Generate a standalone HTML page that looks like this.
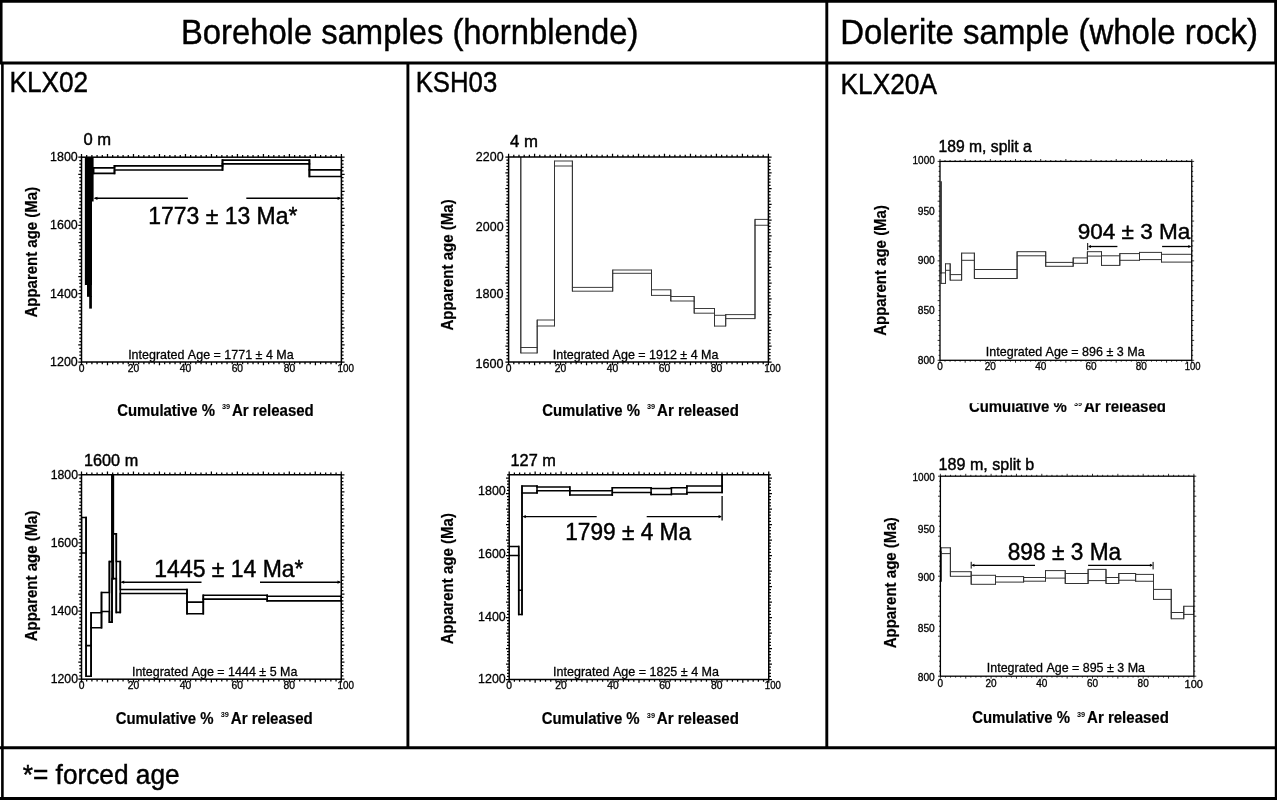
<!DOCTYPE html>
<html><head><meta charset="utf-8"><title>Ar-Ar age spectra</title>
<style>
html,body{margin:0;padding:0;background:#fff;}
body{width:1277px;height:800px;overflow:hidden;}
svg{display:block;}
.my{stroke:#000;stroke-width:0.45px;}
.hv{stroke:#000;stroke-width:0.3px;}
.hb{stroke:#000;stroke-width:0.2px;}
text{font-family:"Liberation Sans",Arial,Helvetica,sans-serif;fill:#000;font-kerning:none;font-variant-ligatures:none;}
</style></head><body>
<svg width="1277" height="800" viewBox="0 0 1277 800">
<rect width="1277" height="800" fill="#fff"/>
<g stroke="#000" fill="none">
<line x1="0" y1="1.3" x2="1277" y2="1.3" stroke-width="2.7"/>
<line x1="1.25" y1="0" x2="1.25" y2="63" stroke-width="2.6"/>
<line x1="2.4" y1="62" x2="2.4" y2="800" stroke-width="2.6"/>
<line x1="1275.6" y1="0" x2="1275.6" y2="63" stroke-width="2.8"/>
<line x1="1276" y1="62" x2="1276" y2="800" stroke-width="2.4"/>
<line x1="0" y1="63" x2="1277" y2="63" stroke-width="2.9"/>
<line x1="0" y1="747.7" x2="1277" y2="747.7" stroke-width="2.9"/>
<line x1="0" y1="798.5" x2="1277" y2="798.5" stroke-width="3"/>
<line x1="407.9" y1="63" x2="407.9" y2="747.7" stroke-width="2.9"/>
<line x1="826.8" y1="0" x2="826.8" y2="747.7" stroke-width="2.9"/>
</g>
<text x="180.91" y="43.90" font-size="34.60" textLength="457.42" lengthAdjust="spacingAndGlyphs" class="my">Borehole samples (hornblende)</text>
<text x="840.30" y="44.20" font-size="34.60" textLength="417.75" lengthAdjust="spacingAndGlyphs" class="my">Dolerite sample (whole rock)</text>
<text x="9.45" y="91.70" font-size="30.00" textLength="78.77" lengthAdjust="spacingAndGlyphs" class="my">KLX02</text>
<text x="415.69" y="91.70" font-size="30.00" textLength="81.54" lengthAdjust="spacingAndGlyphs" class="my">KSH03</text>
<text x="840.54" y="93.80" font-size="29.40" textLength="96.51" lengthAdjust="spacingAndGlyphs" class="my">KLX20A</text>
<text x="22.78" y="784.20" font-size="27.00" textLength="156.89" lengthAdjust="spacingAndGlyphs" class="my">*= forced age</text>
<clipPath id="clipx5"><rect x="900" y="403.2" width="300" height="20"/></clipPath>
<clipPath id="clip1"><rect x="81.50" y="157.20" width="259.90" height="204.80"/></clipPath>
<path d="M81.50 157.20v-3.20M81.50 362.00v3.20M86.70 157.20v-2.20M86.70 362.00v2.20M91.90 157.20v-2.20M91.90 362.00v2.20M97.09 157.20v-2.20M97.09 362.00v2.20M102.29 157.20v-2.20M102.29 362.00v2.20M107.49 157.20v-3.20M107.49 362.00v3.20M112.69 157.20v-2.20M112.69 362.00v2.20M117.89 157.20v-2.20M117.89 362.00v2.20M123.08 157.20v-2.20M123.08 362.00v2.20M128.28 157.20v-2.20M128.28 362.00v2.20M133.48 157.20v-3.20M133.48 362.00v3.20M138.68 157.20v-2.20M138.68 362.00v2.20M143.88 157.20v-2.20M143.88 362.00v2.20M149.07 157.20v-2.20M149.07 362.00v2.20M154.27 157.20v-2.20M154.27 362.00v2.20M159.47 157.20v-3.20M159.47 362.00v3.20M164.67 157.20v-2.20M164.67 362.00v2.20M169.87 157.20v-2.20M169.87 362.00v2.20M175.06 157.20v-2.20M175.06 362.00v2.20M180.26 157.20v-2.20M180.26 362.00v2.20M185.46 157.20v-3.20M185.46 362.00v3.20M190.66 157.20v-2.20M190.66 362.00v2.20M195.86 157.20v-2.20M195.86 362.00v2.20M201.05 157.20v-2.20M201.05 362.00v2.20M206.25 157.20v-2.20M206.25 362.00v2.20M211.45 157.20v-3.20M211.45 362.00v3.20M216.65 157.20v-2.20M216.65 362.00v2.20M221.85 157.20v-2.20M221.85 362.00v2.20M227.04 157.20v-2.20M227.04 362.00v2.20M232.24 157.20v-2.20M232.24 362.00v2.20M237.44 157.20v-3.20M237.44 362.00v3.20M242.64 157.20v-2.20M242.64 362.00v2.20M247.84 157.20v-2.20M247.84 362.00v2.20M253.03 157.20v-2.20M253.03 362.00v2.20M258.23 157.20v-2.20M258.23 362.00v2.20M263.43 157.20v-3.20M263.43 362.00v3.20M268.63 157.20v-2.20M268.63 362.00v2.20M273.83 157.20v-2.20M273.83 362.00v2.20M279.02 157.20v-2.20M279.02 362.00v2.20M284.22 157.20v-2.20M284.22 362.00v2.20M289.42 157.20v-3.20M289.42 362.00v3.20M294.62 157.20v-2.20M294.62 362.00v2.20M299.82 157.20v-2.20M299.82 362.00v2.20M305.01 157.20v-2.20M305.01 362.00v2.20M310.21 157.20v-2.20M310.21 362.00v2.20M315.41 157.20v-3.20M315.41 362.00v3.20M320.61 157.20v-2.20M320.61 362.00v2.20M325.81 157.20v-2.20M325.81 362.00v2.20M331.00 157.20v-2.20M331.00 362.00v2.20M336.20 157.20v-2.20M336.20 362.00v2.20M341.40 157.20v-3.20M341.40 362.00v3.20M81.50 362.00h-3.20M341.40 362.00h3.20M81.50 358.59h-2.20M341.40 358.59h2.20M81.50 355.17h-2.20M341.40 355.17h2.20M81.50 351.76h-2.20M341.40 351.76h2.20M81.50 348.35h-2.20M341.40 348.35h2.20M81.50 344.93h-3.20M341.40 344.93h3.20M81.50 341.52h-2.20M341.40 341.52h2.20M81.50 338.11h-2.20M341.40 338.11h2.20M81.50 334.69h-2.20M341.40 334.69h2.20M81.50 331.28h-2.20M341.40 331.28h2.20M81.50 327.87h-3.20M341.40 327.87h3.20M81.50 324.45h-2.20M341.40 324.45h2.20M81.50 321.04h-2.20M341.40 321.04h2.20M81.50 317.63h-2.20M341.40 317.63h2.20M81.50 314.21h-2.20M341.40 314.21h2.20M81.50 310.80h-3.20M341.40 310.80h3.20M81.50 307.39h-2.20M341.40 307.39h2.20M81.50 303.97h-2.20M341.40 303.97h2.20M81.50 300.56h-2.20M341.40 300.56h2.20M81.50 297.15h-2.20M341.40 297.15h2.20M81.50 293.73h-3.20M341.40 293.73h3.20M81.50 290.32h-2.20M341.40 290.32h2.20M81.50 286.91h-2.20M341.40 286.91h2.20M81.50 283.49h-2.20M341.40 283.49h2.20M81.50 280.08h-2.20M341.40 280.08h2.20M81.50 276.67h-3.20M341.40 276.67h3.20M81.50 273.25h-2.20M341.40 273.25h2.20M81.50 269.84h-2.20M341.40 269.84h2.20M81.50 266.43h-2.20M341.40 266.43h2.20M81.50 263.01h-2.20M341.40 263.01h2.20M81.50 259.60h-3.20M341.40 259.60h3.20M81.50 256.19h-2.20M341.40 256.19h2.20M81.50 252.77h-2.20M341.40 252.77h2.20M81.50 249.36h-2.20M341.40 249.36h2.20M81.50 245.95h-2.20M341.40 245.95h2.20M81.50 242.53h-3.20M341.40 242.53h3.20M81.50 239.12h-2.20M341.40 239.12h2.20M81.50 235.71h-2.20M341.40 235.71h2.20M81.50 232.29h-2.20M341.40 232.29h2.20M81.50 228.88h-2.20M341.40 228.88h2.20M81.50 225.47h-3.20M341.40 225.47h3.20M81.50 222.05h-2.20M341.40 222.05h2.20M81.50 218.64h-2.20M341.40 218.64h2.20M81.50 215.23h-2.20M341.40 215.23h2.20M81.50 211.81h-2.20M341.40 211.81h2.20M81.50 208.40h-3.20M341.40 208.40h3.20M81.50 204.99h-2.20M341.40 204.99h2.20M81.50 201.57h-2.20M341.40 201.57h2.20M81.50 198.16h-2.20M341.40 198.16h2.20M81.50 194.75h-2.20M341.40 194.75h2.20M81.50 191.33h-3.20M341.40 191.33h3.20M81.50 187.92h-2.20M341.40 187.92h2.20M81.50 184.51h-2.20M341.40 184.51h2.20M81.50 181.09h-2.20M341.40 181.09h2.20M81.50 177.68h-2.20M341.40 177.68h2.20M81.50 174.27h-3.20M341.40 174.27h3.20M81.50 170.85h-2.20M341.40 170.85h2.20M81.50 167.44h-2.20M341.40 167.44h2.20M81.50 164.03h-2.20M341.40 164.03h2.20M81.50 160.61h-2.20M341.40 160.61h2.20M81.50 157.20h-3.20M341.40 157.20h3.20" stroke="#000" stroke-width="1.25" fill="none"/>
<g clip-path="url(#clip1)" fill="none" stroke="#000" stroke-width="1.70" stroke-linejoin="miter" stroke-linecap="square">
<path d="M93.60 167.90 L114.50 167.90 L114.50 165.90 L222.50 165.90 L222.50 160.20 L309.40 160.20 L309.40 169.80 L341.40 169.80"/>
<path d="M93.60 173.40 L114.50 173.40 L114.50 170.00 L222.50 170.00 L222.50 163.80 L309.40 163.80 L309.40 176.50 L341.40 176.50"/>
<path d="M93.60 167.90V173.40 M114.50 167.90V173.40 M114.50 165.90V170.00 M222.50 165.90V170.00 M222.50 160.20V163.80 M309.40 160.20V163.80 M309.40 169.80V176.50 M341.40 169.80V176.50"/>
<rect x="85.0" y="157" width="8.6" height="44.5" fill="#000" stroke="none"/>
<rect x="85.0" y="201" width="7.0" height="84" fill="#000" stroke="none"/>
<rect x="87.0" y="284" width="4.9" height="12.8" fill="#000" stroke="none"/>
<rect x="89.2" y="296" width="2.7" height="12.6" fill="#000" stroke="none"/>
<line x1="84.4" y1="157" x2="84.4" y2="285" stroke="#bbb" stroke-width="0.6"/>
</g>
<rect x="81.50" y="157.20" width="259.90" height="204.80" fill="none" stroke="#000" stroke-width="1.50"/>
<g stroke="#000" stroke-width="1.40" fill="#000">
<line x1="94.80" y1="198.30" x2="187.90" y2="198.30"/>
<line x1="246.30" y1="198.30" x2="340.20" y2="198.30"/>
</g>
<path d="M93.80 198.30l3.60 -1.60v3.20z M341.20 198.30l-3.60 -1.60v3.20z" fill="#000"/>
<text x="83.55" y="144.60" font-size="16.60" textLength="27.64" lengthAdjust="spacingAndGlyphs" class="my">0 m</text>
<text x="148.25" y="223.60" font-size="23.70" textLength="149.21" lengthAdjust="spacingAndGlyphs" class="my">1773 ± 13 Ma*</text>
<text x="128.15" y="359.10" font-size="13.60" textLength="165.55" lengthAdjust="spacingAndGlyphs" class="hv">Integrated Age = 1771 ± 4 Ma</text>
<text class="hb" transform="translate(37.20 317.20) rotate(-90)" x="-0.37" y="0" font-size="16.20" font-weight="bold" textLength="130.72" lengthAdjust="spacingAndGlyphs">Apparent age (Ma)</text>
<text x="117.29" y="415.80" font-size="16.00" font-weight="bold" textLength="97.60" lengthAdjust="spacingAndGlyphs" class="hb">Cumulative %</text><text x="222.03" y="409.20" font-size="7.20" font-weight="bold" textLength="8.14" lengthAdjust="spacingAndGlyphs">39</text><text x="232.03" y="415.80" font-size="16.00" font-weight="bold" textLength="81.76" lengthAdjust="spacingAndGlyphs" class="hb">Ar released</text>
<text x="78.64" y="371.95" font-size="10.30" textLength="5.73" lengthAdjust="spacingAndGlyphs" class="hv">0</text>
<text x="127.69" y="371.95" font-size="10.30" textLength="11.46" lengthAdjust="spacingAndGlyphs" class="hv">20</text>
<text x="179.81" y="371.95" font-size="10.30" textLength="11.46" lengthAdjust="spacingAndGlyphs" class="hv">40</text>
<text x="231.65" y="371.95" font-size="10.30" textLength="11.46" lengthAdjust="spacingAndGlyphs" class="hv">60</text>
<text x="283.67" y="371.95" font-size="10.30" textLength="11.46" lengthAdjust="spacingAndGlyphs" class="hv">80</text>
<text x="337.55" y="371.60" font-size="10.30" textLength="16.44" lengthAdjust="spacingAndGlyphs" class="hv">100</text>
<text x="50.05" y="160.92" font-size="13.20" textLength="27.74" lengthAdjust="spacingAndGlyphs" class="hv">1800</text>
<text x="50.05" y="229.42" font-size="13.20" textLength="27.74" lengthAdjust="spacingAndGlyphs" class="hv">1600</text>
<text x="50.05" y="297.62" font-size="13.20" textLength="27.74" lengthAdjust="spacingAndGlyphs" class="hv">1400</text>
<text x="50.05" y="365.92" font-size="13.20" textLength="27.74" lengthAdjust="spacingAndGlyphs" class="hv">1200</text>
<clipPath id="clip2"><rect x="81.50" y="474.75" width="259.75" height="204.45"/></clipPath>
<path d="M81.50 474.75v-3.20M81.50 679.20v3.20M86.69 474.75v-2.20M86.69 679.20v2.20M91.89 474.75v-2.20M91.89 679.20v2.20M97.09 474.75v-2.20M97.09 679.20v2.20M102.28 474.75v-2.20M102.28 679.20v2.20M107.47 474.75v-3.20M107.47 679.20v3.20M112.67 474.75v-2.20M112.67 679.20v2.20M117.87 474.75v-2.20M117.87 679.20v2.20M123.06 474.75v-2.20M123.06 679.20v2.20M128.25 474.75v-2.20M128.25 679.20v2.20M133.45 474.75v-3.20M133.45 679.20v3.20M138.65 474.75v-2.20M138.65 679.20v2.20M143.84 474.75v-2.20M143.84 679.20v2.20M149.03 474.75v-2.20M149.03 679.20v2.20M154.23 474.75v-2.20M154.23 679.20v2.20M159.43 474.75v-3.20M159.43 679.20v3.20M164.62 474.75v-2.20M164.62 679.20v2.20M169.81 474.75v-2.20M169.81 679.20v2.20M175.01 474.75v-2.20M175.01 679.20v2.20M180.20 474.75v-2.20M180.20 679.20v2.20M185.40 474.75v-3.20M185.40 679.20v3.20M190.59 474.75v-2.20M190.59 679.20v2.20M195.79 474.75v-2.20M195.79 679.20v2.20M200.99 474.75v-2.20M200.99 679.20v2.20M206.18 474.75v-2.20M206.18 679.20v2.20M211.38 474.75v-3.20M211.38 679.20v3.20M216.57 474.75v-2.20M216.57 679.20v2.20M221.76 474.75v-2.20M221.76 679.20v2.20M226.96 474.75v-2.20M226.96 679.20v2.20M232.16 474.75v-2.20M232.16 679.20v2.20M237.35 474.75v-3.20M237.35 679.20v3.20M242.54 474.75v-2.20M242.54 679.20v2.20M247.74 474.75v-2.20M247.74 679.20v2.20M252.94 474.75v-2.20M252.94 679.20v2.20M258.13 474.75v-2.20M258.13 679.20v2.20M263.32 474.75v-3.20M263.32 679.20v3.20M268.52 474.75v-2.20M268.52 679.20v2.20M273.72 474.75v-2.20M273.72 679.20v2.20M278.91 474.75v-2.20M278.91 679.20v2.20M284.11 474.75v-2.20M284.11 679.20v2.20M289.30 474.75v-3.20M289.30 679.20v3.20M294.50 474.75v-2.20M294.50 679.20v2.20M299.69 474.75v-2.20M299.69 679.20v2.20M304.88 474.75v-2.20M304.88 679.20v2.20M310.08 474.75v-2.20M310.08 679.20v2.20M315.27 474.75v-3.20M315.27 679.20v3.20M320.47 474.75v-2.20M320.47 679.20v2.20M325.66 474.75v-2.20M325.66 679.20v2.20M330.86 474.75v-2.20M330.86 679.20v2.20M336.06 474.75v-2.20M336.06 679.20v2.20M341.25 474.75v-3.20M341.25 679.20v3.20M81.50 679.20h-3.20M341.25 679.20h3.20M81.50 675.79h-2.20M341.25 675.79h2.20M81.50 672.38h-2.20M341.25 672.38h2.20M81.50 668.98h-2.20M341.25 668.98h2.20M81.50 665.57h-2.20M341.25 665.57h2.20M81.50 662.16h-3.20M341.25 662.16h3.20M81.50 658.75h-2.20M341.25 658.75h2.20M81.50 655.35h-2.20M341.25 655.35h2.20M81.50 651.94h-2.20M341.25 651.94h2.20M81.50 648.53h-2.20M341.25 648.53h2.20M81.50 645.12h-3.20M341.25 645.12h3.20M81.50 641.72h-2.20M341.25 641.72h2.20M81.50 638.31h-2.20M341.25 638.31h2.20M81.50 634.90h-2.20M341.25 634.90h2.20M81.50 631.50h-2.20M341.25 631.50h2.20M81.50 628.09h-3.20M341.25 628.09h3.20M81.50 624.68h-2.20M341.25 624.68h2.20M81.50 621.27h-2.20M341.25 621.27h2.20M81.50 617.87h-2.20M341.25 617.87h2.20M81.50 614.46h-2.20M341.25 614.46h2.20M81.50 611.05h-3.20M341.25 611.05h3.20M81.50 607.64h-2.20M341.25 607.64h2.20M81.50 604.24h-2.20M341.25 604.24h2.20M81.50 600.83h-2.20M341.25 600.83h2.20M81.50 597.42h-2.20M341.25 597.42h2.20M81.50 594.01h-3.20M341.25 594.01h3.20M81.50 590.61h-2.20M341.25 590.61h2.20M81.50 587.20h-2.20M341.25 587.20h2.20M81.50 583.79h-2.20M341.25 583.79h2.20M81.50 580.38h-2.20M341.25 580.38h2.20M81.50 576.98h-3.20M341.25 576.98h3.20M81.50 573.57h-2.20M341.25 573.57h2.20M81.50 570.16h-2.20M341.25 570.16h2.20M81.50 566.75h-2.20M341.25 566.75h2.20M81.50 563.35h-2.20M341.25 563.35h2.20M81.50 559.94h-3.20M341.25 559.94h3.20M81.50 556.53h-2.20M341.25 556.53h2.20M81.50 553.12h-2.20M341.25 553.12h2.20M81.50 549.72h-2.20M341.25 549.72h2.20M81.50 546.31h-2.20M341.25 546.31h2.20M81.50 542.90h-3.20M341.25 542.90h3.20M81.50 539.49h-2.20M341.25 539.49h2.20M81.50 536.09h-2.20M341.25 536.09h2.20M81.50 532.68h-2.20M341.25 532.68h2.20M81.50 529.27h-2.20M341.25 529.27h2.20M81.50 525.86h-3.20M341.25 525.86h3.20M81.50 522.46h-2.20M341.25 522.46h2.20M81.50 519.05h-2.20M341.25 519.05h2.20M81.50 515.64h-2.20M341.25 515.64h2.20M81.50 512.23h-2.20M341.25 512.23h2.20M81.50 508.83h-3.20M341.25 508.83h3.20M81.50 505.42h-2.20M341.25 505.42h2.20M81.50 502.01h-2.20M341.25 502.01h2.20M81.50 498.60h-2.20M341.25 498.60h2.20M81.50 495.20h-2.20M341.25 495.20h2.20M81.50 491.79h-3.20M341.25 491.79h3.20M81.50 488.38h-2.20M341.25 488.38h2.20M81.50 484.97h-2.20M341.25 484.97h2.20M81.50 481.57h-2.20M341.25 481.57h2.20M81.50 478.16h-2.20M341.25 478.16h2.20M81.50 474.75h-3.20M341.25 474.75h3.20" stroke="#000" stroke-width="1.25" fill="none"/>
<g clip-path="url(#clip2)" fill="none" stroke="#000" stroke-width="1.60" stroke-linejoin="miter" stroke-linecap="square">
<path d="M81.50 517.50 L86.10 517.50 L86.10 645.60 L91.10 645.60 L91.10 612.80 L101.50 612.80 L101.50 592.50 L109.40 592.50 L109.40 561.60 L112.00 561.60 L112.00 460.00 L113.30 460.00 L113.30 533.90 L116.30 533.90 L116.30 561.50 L120.30 561.50 L120.30 589.50 L187.00 589.50 L187.00 602.10 L203.30 602.10 L203.30 595.30 L267.20 595.30 L267.20 596.20 L341.25 596.20"/>
<path d="M81.50 553.00 L86.10 553.00 L86.10 676.30 L91.10 676.30 L91.10 627.80 L101.50 627.80 L101.50 611.50 L109.40 611.50 L109.40 622.10 L112.00 622.10 L112.00 578.60 L113.30 578.60 L113.30 578.60 L116.30 578.60 L116.30 612.40 L120.30 612.40 L120.30 593.50 L187.00 593.50 L187.00 613.80 L203.30 613.80 L203.30 599.10 L267.20 599.10 L267.20 600.90 L341.25 600.90"/>
<path d="M81.50 517.50V553.00 M86.10 517.50V553.00 M86.10 645.60V676.30 M91.10 645.60V676.30 M91.10 612.80V627.80 M101.50 612.80V627.80 M101.50 592.50V611.50 M109.40 592.50V611.50 M109.40 561.60V622.10 M112.00 561.60V622.10 M112.00 460.00V578.60 M113.30 460.00V578.60 M113.30 533.90V578.60 M116.30 533.90V578.60 M116.30 561.50V612.40 M120.30 561.50V612.40 M120.30 589.50V593.50 M187.00 589.50V593.50 M187.00 602.10V613.80 M203.30 602.10V613.80 M203.30 595.30V599.10 M267.20 595.30V599.10 M267.20 596.20V600.90 M341.25 596.20V600.90"/>
</g>
<rect x="81.50" y="474.75" width="259.75" height="204.45" fill="none" stroke="#000" stroke-width="1.50"/>
<g stroke="#000" stroke-width="1.40" fill="#000">
<line x1="121.60" y1="582.20" x2="201.50" y2="582.20"/>
<line x1="260.00" y1="582.20" x2="340.10" y2="582.20"/>
</g>
<path d="M120.60 582.20l3.60 -1.60v3.20z M341.10 582.20l-3.60 -1.60v3.20z" fill="#000"/>
<text x="84.06" y="466.00" font-size="16.90" textLength="54.10" lengthAdjust="spacingAndGlyphs" class="my">1600 m</text>
<text x="154.35" y="576.60" font-size="23.20" textLength="149.21" lengthAdjust="spacingAndGlyphs" class="my">1445 ± 14 Ma*</text>
<text x="131.95" y="675.80" font-size="13.60" textLength="165.45" lengthAdjust="spacingAndGlyphs" class="hv">Integrated Age = 1444 ± 5 Ma</text>
<text class="hb" transform="translate(37.00 640.90) rotate(-90)" x="-0.37" y="0" font-size="16.20" font-weight="bold" textLength="130.72" lengthAdjust="spacingAndGlyphs">Apparent age (Ma)</text>
<text x="115.69" y="723.80" font-size="16.00" font-weight="bold" textLength="97.90" lengthAdjust="spacingAndGlyphs" class="hb">Cumulative %</text><text x="220.75" y="717.20" font-size="7.20" font-weight="bold" textLength="8.16" lengthAdjust="spacingAndGlyphs">39</text><text x="230.78" y="723.80" font-size="16.00" font-weight="bold" textLength="82.01" lengthAdjust="spacingAndGlyphs" class="hb">Ar released</text>
<text x="78.64" y="688.76" font-size="10.30" textLength="5.73" lengthAdjust="spacingAndGlyphs" class="hv">0</text>
<text x="127.66" y="688.76" font-size="10.30" textLength="11.46" lengthAdjust="spacingAndGlyphs" class="hv">20</text>
<text x="179.75" y="688.76" font-size="10.30" textLength="11.46" lengthAdjust="spacingAndGlyphs" class="hv">40</text>
<text x="231.56" y="688.76" font-size="10.30" textLength="11.46" lengthAdjust="spacingAndGlyphs" class="hv">60</text>
<text x="283.55" y="688.76" font-size="10.30" textLength="11.46" lengthAdjust="spacingAndGlyphs" class="hv">80</text>
<text x="337.55" y="688.60" font-size="10.30" textLength="16.44" lengthAdjust="spacingAndGlyphs" class="hv">100</text>
<text x="50.66" y="478.82" font-size="13.20" textLength="27.31" lengthAdjust="spacingAndGlyphs" class="hv">1800</text>
<text x="50.66" y="547.12" font-size="13.20" textLength="27.31" lengthAdjust="spacingAndGlyphs" class="hv">1600</text>
<text x="50.66" y="615.12" font-size="13.20" textLength="27.31" lengthAdjust="spacingAndGlyphs" class="hv">1400</text>
<text x="50.66" y="682.82" font-size="13.20" textLength="27.31" lengthAdjust="spacingAndGlyphs" class="hv">1200</text>
<clipPath id="clip3"><rect x="508.60" y="157.00" width="259.80" height="205.00"/></clipPath>
<path d="M508.60 157.00v-3.20M508.60 362.00v3.20M513.80 157.00v-2.20M513.80 362.00v2.20M518.99 157.00v-2.20M518.99 362.00v2.20M524.19 157.00v-2.20M524.19 362.00v2.20M529.38 157.00v-2.20M529.38 362.00v2.20M534.58 157.00v-3.20M534.58 362.00v3.20M539.78 157.00v-2.20M539.78 362.00v2.20M544.97 157.00v-2.20M544.97 362.00v2.20M550.17 157.00v-2.20M550.17 362.00v2.20M555.36 157.00v-2.20M555.36 362.00v2.20M560.56 157.00v-3.20M560.56 362.00v3.20M565.76 157.00v-2.20M565.76 362.00v2.20M570.95 157.00v-2.20M570.95 362.00v2.20M576.15 157.00v-2.20M576.15 362.00v2.20M581.34 157.00v-2.20M581.34 362.00v2.20M586.54 157.00v-3.20M586.54 362.00v3.20M591.74 157.00v-2.20M591.74 362.00v2.20M596.93 157.00v-2.20M596.93 362.00v2.20M602.13 157.00v-2.20M602.13 362.00v2.20M607.32 157.00v-2.20M607.32 362.00v2.20M612.52 157.00v-3.20M612.52 362.00v3.20M617.72 157.00v-2.20M617.72 362.00v2.20M622.91 157.00v-2.20M622.91 362.00v2.20M628.11 157.00v-2.20M628.11 362.00v2.20M633.30 157.00v-2.20M633.30 362.00v2.20M638.50 157.00v-3.20M638.50 362.00v3.20M643.70 157.00v-2.20M643.70 362.00v2.20M648.89 157.00v-2.20M648.89 362.00v2.20M654.09 157.00v-2.20M654.09 362.00v2.20M659.28 157.00v-2.20M659.28 362.00v2.20M664.48 157.00v-3.20M664.48 362.00v3.20M669.68 157.00v-2.20M669.68 362.00v2.20M674.87 157.00v-2.20M674.87 362.00v2.20M680.07 157.00v-2.20M680.07 362.00v2.20M685.26 157.00v-2.20M685.26 362.00v2.20M690.46 157.00v-3.20M690.46 362.00v3.20M695.66 157.00v-2.20M695.66 362.00v2.20M700.85 157.00v-2.20M700.85 362.00v2.20M706.05 157.00v-2.20M706.05 362.00v2.20M711.24 157.00v-2.20M711.24 362.00v2.20M716.44 157.00v-3.20M716.44 362.00v3.20M721.64 157.00v-2.20M721.64 362.00v2.20M726.83 157.00v-2.20M726.83 362.00v2.20M732.03 157.00v-2.20M732.03 362.00v2.20M737.22 157.00v-2.20M737.22 362.00v2.20M742.42 157.00v-3.20M742.42 362.00v3.20M747.62 157.00v-2.20M747.62 362.00v2.20M752.81 157.00v-2.20M752.81 362.00v2.20M758.01 157.00v-2.20M758.01 362.00v2.20M763.20 157.00v-2.20M763.20 362.00v2.20M768.40 157.00v-3.20M768.40 362.00v3.20M508.60 362.00h-3.20M768.40 362.00h3.20M508.60 358.85h-2.20M768.40 358.85h2.20M508.60 355.69h-2.20M768.40 355.69h2.20M508.60 352.54h-2.20M768.40 352.54h2.20M508.60 349.38h-2.20M768.40 349.38h2.20M508.60 346.23h-3.20M768.40 346.23h3.20M508.60 343.08h-2.20M768.40 343.08h2.20M508.60 339.92h-2.20M768.40 339.92h2.20M508.60 336.77h-2.20M768.40 336.77h2.20M508.60 333.62h-2.20M768.40 333.62h2.20M508.60 330.46h-3.20M768.40 330.46h3.20M508.60 327.31h-2.20M768.40 327.31h2.20M508.60 324.15h-2.20M768.40 324.15h2.20M508.60 321.00h-2.20M768.40 321.00h2.20M508.60 317.85h-2.20M768.40 317.85h2.20M508.60 314.69h-3.20M768.40 314.69h3.20M508.60 311.54h-2.20M768.40 311.54h2.20M508.60 308.38h-2.20M768.40 308.38h2.20M508.60 305.23h-2.20M768.40 305.23h2.20M508.60 302.08h-2.20M768.40 302.08h2.20M508.60 298.92h-3.20M768.40 298.92h3.20M508.60 295.77h-2.20M768.40 295.77h2.20M508.60 292.62h-2.20M768.40 292.62h2.20M508.60 289.46h-2.20M768.40 289.46h2.20M508.60 286.31h-2.20M768.40 286.31h2.20M508.60 283.15h-3.20M768.40 283.15h3.20M508.60 280.00h-2.20M768.40 280.00h2.20M508.60 276.85h-2.20M768.40 276.85h2.20M508.60 273.69h-2.20M768.40 273.69h2.20M508.60 270.54h-2.20M768.40 270.54h2.20M508.60 267.38h-3.20M768.40 267.38h3.20M508.60 264.23h-2.20M768.40 264.23h2.20M508.60 261.08h-2.20M768.40 261.08h2.20M508.60 257.92h-2.20M768.40 257.92h2.20M508.60 254.77h-2.20M768.40 254.77h2.20M508.60 251.62h-3.20M768.40 251.62h3.20M508.60 248.46h-2.20M768.40 248.46h2.20M508.60 245.31h-2.20M768.40 245.31h2.20M508.60 242.15h-2.20M768.40 242.15h2.20M508.60 239.00h-2.20M768.40 239.00h2.20M508.60 235.85h-3.20M768.40 235.85h3.20M508.60 232.69h-2.20M768.40 232.69h2.20M508.60 229.54h-2.20M768.40 229.54h2.20M508.60 226.38h-2.20M768.40 226.38h2.20M508.60 223.23h-2.20M768.40 223.23h2.20M508.60 220.08h-3.20M768.40 220.08h3.20M508.60 216.92h-2.20M768.40 216.92h2.20M508.60 213.77h-2.20M768.40 213.77h2.20M508.60 210.62h-2.20M768.40 210.62h2.20M508.60 207.46h-2.20M768.40 207.46h2.20M508.60 204.31h-3.20M768.40 204.31h3.20M508.60 201.15h-2.20M768.40 201.15h2.20M508.60 198.00h-2.20M768.40 198.00h2.20M508.60 194.85h-2.20M768.40 194.85h2.20M508.60 191.69h-2.20M768.40 191.69h2.20M508.60 188.54h-3.20M768.40 188.54h3.20M508.60 185.38h-2.20M768.40 185.38h2.20M508.60 182.23h-2.20M768.40 182.23h2.20M508.60 179.08h-2.20M768.40 179.08h2.20M508.60 175.92h-2.20M768.40 175.92h2.20M508.60 172.77h-3.20M768.40 172.77h3.20M508.60 169.62h-2.20M768.40 169.62h2.20M508.60 166.46h-2.20M768.40 166.46h2.20M508.60 163.31h-2.20M768.40 163.31h2.20M508.60 160.15h-2.20M768.40 160.15h2.20M508.60 157.00h-3.20M768.40 157.00h3.20" stroke="#000" stroke-width="1.25" fill="none"/>
<g clip-path="url(#clip3)" fill="none" stroke="#333" stroke-width="0.95" stroke-linejoin="miter" stroke-linecap="square">
<path d="M508.60 140.00 L520.80 140.00 L520.80 347.50 L537.20 347.50 L537.20 320.00 L554.50 320.00 L554.50 161.00 L572.40 161.00 L572.40 287.40 L612.70 287.40 L612.70 270.00 L651.50 270.00 L651.50 289.80 L670.80 289.80 L670.80 296.50 L694.20 296.50 L694.20 308.50 L714.50 308.50 L714.50 315.30 L725.70 315.30 L725.70 314.60 L755.00 314.60 L755.00 219.40 L768.40 219.40"/>
<path d="M508.60 140.00 L520.80 140.00 L520.80 353.00 L537.20 353.00 L537.20 326.00 L554.50 326.00 L554.50 166.00 L572.40 166.00 L572.40 291.20 L612.70 291.20 L612.70 273.30 L651.50 273.30 L651.50 295.40 L670.80 295.40 L670.80 301.00 L694.20 301.00 L694.20 313.20 L714.50 313.20 L714.50 326.10 L725.70 326.10 L725.70 318.60 L755.00 318.60 L755.00 225.25 L768.40 225.25"/>
<path d="M508.60 140.00V140.00 M520.80 140.00V140.00 M520.80 347.50V353.00 M537.20 347.50V353.00 M537.20 320.00V326.00 M554.50 320.00V326.00 M554.50 161.00V166.00 M572.40 161.00V166.00 M572.40 287.40V291.20 M612.70 287.40V291.20 M612.70 270.00V273.30 M651.50 270.00V273.30 M651.50 289.80V295.40 M670.80 289.80V295.40 M670.80 296.50V301.00 M694.20 296.50V301.00 M694.20 308.50V313.20 M714.50 308.50V313.20 M714.50 315.30V326.10 M725.70 315.30V326.10 M725.70 314.60V318.60 M755.00 314.60V318.60 M755.00 219.40V225.25 M768.40 219.40V225.25"/>
</g>
<rect x="508.60" y="157.00" width="259.80" height="205.00" fill="none" stroke="#000" stroke-width="1.50"/>
<text x="510.02" y="147.00" font-size="16.00" textLength="27.89" lengthAdjust="spacingAndGlyphs" class="my">4 m</text>
<text x="552.85" y="358.75" font-size="13.40" textLength="165.65" lengthAdjust="spacingAndGlyphs" class="hv">Integrated Age = 1912 ± 4 Ma</text>
<text class="hb" transform="translate(453.10 330.20) rotate(-90)" x="-0.37" y="0" font-size="16.20" font-weight="bold" textLength="131.32" lengthAdjust="spacingAndGlyphs">Apparent age (Ma)</text>
<text x="542.19" y="415.60" font-size="16.00" font-weight="bold" textLength="97.70" lengthAdjust="spacingAndGlyphs" class="hb">Cumulative %</text><text x="647.04" y="409.00" font-size="7.20" font-weight="bold" textLength="8.15" lengthAdjust="spacingAndGlyphs">39</text><text x="657.04" y="415.60" font-size="16.00" font-weight="bold" textLength="81.85" lengthAdjust="spacingAndGlyphs" class="hb">Ar released</text>
<text x="505.74" y="372.10" font-size="10.30" textLength="5.73" lengthAdjust="spacingAndGlyphs" class="hv">0</text>
<text x="554.77" y="372.10" font-size="10.30" textLength="11.46" lengthAdjust="spacingAndGlyphs" class="hv">20</text>
<text x="606.87" y="372.10" font-size="10.30" textLength="11.46" lengthAdjust="spacingAndGlyphs" class="hv">40</text>
<text x="658.69" y="372.10" font-size="10.30" textLength="11.46" lengthAdjust="spacingAndGlyphs" class="hv">60</text>
<text x="710.69" y="372.10" font-size="10.30" textLength="11.46" lengthAdjust="spacingAndGlyphs" class="hv">80</text>
<text x="764.35" y="371.90" font-size="10.30" textLength="16.44" lengthAdjust="spacingAndGlyphs" class="hv">100</text>
<text x="475.87" y="161.32" font-size="13.20" textLength="27.71" lengthAdjust="spacingAndGlyphs" class="hv">2200</text>
<text x="475.87" y="231.22" font-size="13.20" textLength="27.71" lengthAdjust="spacingAndGlyphs" class="hv">2000</text>
<text x="475.54" y="298.42" font-size="13.20" textLength="28.05" lengthAdjust="spacingAndGlyphs" class="hv">1800</text>
<text x="475.54" y="367.52" font-size="13.20" textLength="28.05" lengthAdjust="spacingAndGlyphs" class="hv">1600</text>
<clipPath id="clip4"><rect x="509.20" y="474.75" width="259.55" height="204.75"/></clipPath>
<path d="M509.20 474.75v-3.20M509.20 679.50v3.20M514.39 474.75v-2.20M514.39 679.50v2.20M519.58 474.75v-2.20M519.58 679.50v2.20M524.77 474.75v-2.20M524.77 679.50v2.20M529.96 474.75v-2.20M529.96 679.50v2.20M535.15 474.75v-3.20M535.15 679.50v3.20M540.35 474.75v-2.20M540.35 679.50v2.20M545.54 474.75v-2.20M545.54 679.50v2.20M550.73 474.75v-2.20M550.73 679.50v2.20M555.92 474.75v-2.20M555.92 679.50v2.20M561.11 474.75v-3.20M561.11 679.50v3.20M566.30 474.75v-2.20M566.30 679.50v2.20M571.49 474.75v-2.20M571.49 679.50v2.20M576.68 474.75v-2.20M576.68 679.50v2.20M581.87 474.75v-2.20M581.87 679.50v2.20M587.06 474.75v-3.20M587.06 679.50v3.20M592.26 474.75v-2.20M592.26 679.50v2.20M597.45 474.75v-2.20M597.45 679.50v2.20M602.64 474.75v-2.20M602.64 679.50v2.20M607.83 474.75v-2.20M607.83 679.50v2.20M613.02 474.75v-3.20M613.02 679.50v3.20M618.21 474.75v-2.20M618.21 679.50v2.20M623.40 474.75v-2.20M623.40 679.50v2.20M628.59 474.75v-2.20M628.59 679.50v2.20M633.78 474.75v-2.20M633.78 679.50v2.20M638.98 474.75v-3.20M638.98 679.50v3.20M644.17 474.75v-2.20M644.17 679.50v2.20M649.36 474.75v-2.20M649.36 679.50v2.20M654.55 474.75v-2.20M654.55 679.50v2.20M659.74 474.75v-2.20M659.74 679.50v2.20M664.93 474.75v-3.20M664.93 679.50v3.20M670.12 474.75v-2.20M670.12 679.50v2.20M675.31 474.75v-2.20M675.31 679.50v2.20M680.50 474.75v-2.20M680.50 679.50v2.20M685.69 474.75v-2.20M685.69 679.50v2.20M690.88 474.75v-3.20M690.88 679.50v3.20M696.08 474.75v-2.20M696.08 679.50v2.20M701.27 474.75v-2.20M701.27 679.50v2.20M706.46 474.75v-2.20M706.46 679.50v2.20M711.65 474.75v-2.20M711.65 679.50v2.20M716.84 474.75v-3.20M716.84 679.50v3.20M722.03 474.75v-2.20M722.03 679.50v2.20M727.22 474.75v-2.20M727.22 679.50v2.20M732.41 474.75v-2.20M732.41 679.50v2.20M737.60 474.75v-2.20M737.60 679.50v2.20M742.79 474.75v-3.20M742.79 679.50v3.20M747.99 474.75v-2.20M747.99 679.50v2.20M753.18 474.75v-2.20M753.18 679.50v2.20M758.37 474.75v-2.20M758.37 679.50v2.20M763.56 474.75v-2.20M763.56 679.50v2.20M768.75 474.75v-3.20M768.75 679.50v3.20M509.20 679.50h-3.20M768.75 679.50h3.20M509.20 676.40h-2.20M768.75 676.40h2.20M509.20 673.30h-2.20M768.75 673.30h2.20M509.20 670.20h-2.20M768.75 670.20h2.20M509.20 667.10h-2.20M768.75 667.10h2.20M509.20 664.00h-3.20M768.75 664.00h3.20M509.20 660.90h-2.20M768.75 660.90h2.20M509.20 657.80h-2.20M768.75 657.80h2.20M509.20 654.70h-2.20M768.75 654.70h2.20M509.20 651.60h-2.20M768.75 651.60h2.20M509.20 648.50h-3.20M768.75 648.50h3.20M509.20 645.40h-2.20M768.75 645.40h2.20M509.20 642.30h-2.20M768.75 642.30h2.20M509.20 639.20h-2.20M768.75 639.20h2.20M509.20 636.10h-2.20M768.75 636.10h2.20M509.20 633.00h-3.20M768.75 633.00h3.20M509.20 629.90h-2.20M768.75 629.90h2.20M509.20 626.80h-2.20M768.75 626.80h2.20M509.20 623.70h-2.20M768.75 623.70h2.20M509.20 620.60h-2.20M768.75 620.60h2.20M509.20 617.50h-3.20M768.75 617.50h3.20M509.20 614.40h-2.20M768.75 614.40h2.20M509.20 611.30h-2.20M768.75 611.30h2.20M509.20 608.20h-2.20M768.75 608.20h2.20M509.20 605.10h-2.20M768.75 605.10h2.20M509.20 602.00h-3.20M768.75 602.00h3.20M509.20 598.90h-2.20M768.75 598.90h2.20M509.20 595.80h-2.20M768.75 595.80h2.20M509.20 592.70h-2.20M768.75 592.70h2.20M509.20 589.60h-2.20M768.75 589.60h2.20M509.20 586.50h-3.20M768.75 586.50h3.20M509.20 583.40h-2.20M768.75 583.40h2.20M509.20 580.30h-2.20M768.75 580.30h2.20M509.20 577.20h-2.20M768.75 577.20h2.20M509.20 574.10h-2.20M768.75 574.10h2.20M509.20 571.00h-3.20M768.75 571.00h3.20M509.20 567.90h-2.20M768.75 567.90h2.20M509.20 564.80h-2.20M768.75 564.80h2.20M509.20 561.70h-2.20M768.75 561.70h2.20M509.20 558.60h-2.20M768.75 558.60h2.20M509.20 555.50h-3.20M768.75 555.50h3.20M509.20 552.40h-2.20M768.75 552.40h2.20M509.20 549.30h-2.20M768.75 549.30h2.20M509.20 546.20h-2.20M768.75 546.20h2.20M509.20 543.10h-2.20M768.75 543.10h2.20M509.20 540.00h-3.20M768.75 540.00h3.20M509.20 536.90h-2.20M768.75 536.90h2.20M509.20 533.80h-2.20M768.75 533.80h2.20M509.20 530.70h-2.20M768.75 530.70h2.20M509.20 527.60h-2.20M768.75 527.60h2.20M509.20 524.50h-3.20M768.75 524.50h3.20M509.20 521.40h-2.20M768.75 521.40h2.20M509.20 518.30h-2.20M768.75 518.30h2.20M509.20 515.20h-2.20M768.75 515.20h2.20M509.20 512.10h-2.20M768.75 512.10h2.20M509.20 509.00h-3.20M768.75 509.00h3.20M509.20 505.90h-2.20M768.75 505.90h2.20M509.20 502.80h-2.20M768.75 502.80h2.20M509.20 499.70h-2.20M768.75 499.70h2.20M509.20 496.60h-2.20M768.75 496.60h2.20M509.20 493.50h-3.20M768.75 493.50h3.20M509.20 490.40h-2.20M768.75 490.40h2.20M509.20 487.30h-2.20M768.75 487.30h2.20M509.20 484.20h-2.20M768.75 484.20h2.20M509.20 481.10h-2.20M768.75 481.10h2.20M509.20 478.00h-3.20M768.75 478.00h3.20M509.20 474.90h-2.20M768.75 474.90h2.20" stroke="#000" stroke-width="1.25" fill="none"/>
<g clip-path="url(#clip4)" fill="none" stroke="#000" stroke-width="1.50" stroke-linejoin="miter" stroke-linecap="square">
<path d="M509.20 546.50 L518.70 546.50 L518.70 590.30 L522.00 590.30 L522.00 486.00 L537.00 486.00 L537.00 486.90 L569.80 486.90 L569.80 490.70 L612.30 490.70 L612.30 487.70 L651.10 487.70 L651.10 488.60 L671.40 488.60 L671.40 487.70 L686.90 487.70 L686.90 486.00 L722.10 486.00 L722.10 460.00 L768.75 460.00"/>
<path d="M509.20 555.60 L518.70 555.60 L518.70 614.40 L522.00 614.40 L522.00 492.90 L537.00 492.90 L537.00 490.70 L569.80 490.70 L569.80 495.00 L612.30 495.00 L612.30 492.40 L651.10 492.40 L651.10 494.60 L671.40 494.60 L671.40 494.10 L686.90 494.10 L686.90 492.40 L722.10 492.40 L722.10 460.00 L768.75 460.00"/>
<path d="M509.20 546.50V555.60 M518.70 546.50V555.60 M518.70 590.30V614.40 M522.00 590.30V614.40 M522.00 486.00V492.90 M537.00 486.00V492.90 M537.00 486.90V490.70 M569.80 486.90V490.70 M569.80 490.70V495.00 M612.30 490.70V495.00 M612.30 487.70V492.40 M651.10 487.70V492.40 M651.10 488.60V494.60 M671.40 488.60V494.60 M671.40 487.70V494.10 M686.90 487.70V494.10 M686.90 486.00V492.40 M722.10 486.00V492.40 M722.10 460.00V460.00 M768.75 460.00V460.00"/>
</g>
<rect x="509.20" y="474.75" width="259.55" height="204.75" fill="none" stroke="#000" stroke-width="1.50"/>
<g stroke="#000" stroke-width="1.40" fill="#000">
<line x1="523.60" y1="516.60" x2="596.70" y2="516.60"/>
<line x1="646.70" y1="516.60" x2="720.80" y2="516.60"/>
</g>
<path d="M522.60 516.60l3.20 -1.70v3.40z M721.80 516.60l-3.20 -1.70v3.40z" fill="#000"/>
<line x1="722.10" y1="496.00" x2="722.10" y2="520.50" stroke="#000" stroke-width="1.30"/>
<text x="510.56" y="465.90" font-size="16.00" textLength="45.32" lengthAdjust="spacingAndGlyphs" class="my">127 m</text>
<text x="565.27" y="539.50" font-size="23.50" textLength="125.83" lengthAdjust="spacingAndGlyphs" class="my">1799 ± 4 Ma</text>
<text x="553.04" y="676.20" font-size="13.40" textLength="165.96" lengthAdjust="spacingAndGlyphs" class="hv">Integrated Age = 1825 ± 4 Ma</text>
<text class="hb" transform="translate(452.90 644.00) rotate(-90)" x="-0.37" y="0" font-size="16.20" font-weight="bold" textLength="131.32" lengthAdjust="spacingAndGlyphs">Apparent age (Ma)</text>
<text x="541.69" y="724.10" font-size="16.00" font-weight="bold" textLength="97.95" lengthAdjust="spacingAndGlyphs" class="hb">Cumulative %</text><text x="646.81" y="717.50" font-size="7.20" font-weight="bold" textLength="8.17" lengthAdjust="spacingAndGlyphs">39</text><text x="656.84" y="724.10" font-size="16.00" font-weight="bold" textLength="82.06" lengthAdjust="spacingAndGlyphs" class="hb">Ar released</text>
<text x="506.34" y="689.16" font-size="10.30" textLength="5.73" lengthAdjust="spacingAndGlyphs" class="hv">0</text>
<text x="555.32" y="689.16" font-size="10.30" textLength="11.46" lengthAdjust="spacingAndGlyphs" class="hv">20</text>
<text x="607.37" y="689.16" font-size="10.30" textLength="11.46" lengthAdjust="spacingAndGlyphs" class="hv">40</text>
<text x="659.14" y="689.16" font-size="10.30" textLength="11.46" lengthAdjust="spacingAndGlyphs" class="hv">60</text>
<text x="711.09" y="689.16" font-size="10.30" textLength="11.46" lengthAdjust="spacingAndGlyphs" class="hv">80</text>
<text x="764.86" y="688.80" font-size="10.30" textLength="16.11" lengthAdjust="spacingAndGlyphs" class="hv">100</text>
<text x="478.05" y="494.62" font-size="13.20" textLength="27.74" lengthAdjust="spacingAndGlyphs" class="hv">1800</text>
<text x="478.05" y="558.42" font-size="13.20" textLength="27.74" lengthAdjust="spacingAndGlyphs" class="hv">1600</text>
<text x="478.05" y="620.82" font-size="13.20" textLength="27.74" lengthAdjust="spacingAndGlyphs" class="hv">1400</text>
<text x="478.05" y="682.62" font-size="13.20" textLength="27.74" lengthAdjust="spacingAndGlyphs" class="hv">1200</text>
<clipPath id="clip5"><rect x="940.00" y="161.40" width="251.75" height="198.90"/></clipPath>
<path d="M940.00 161.40v-2.40M940.00 360.30v2.40M945.03 161.40v-1.40M945.03 360.30v1.40M950.07 161.40v-1.40M950.07 360.30v1.40M955.11 161.40v-1.40M955.11 360.30v1.40M960.14 161.40v-1.40M960.14 360.30v1.40M965.17 161.40v-2.40M965.17 360.30v2.40M970.21 161.40v-1.40M970.21 360.30v1.40M975.25 161.40v-1.40M975.25 360.30v1.40M980.28 161.40v-1.40M980.28 360.30v1.40M985.32 161.40v-1.40M985.32 360.30v1.40M990.35 161.40v-2.40M990.35 360.30v2.40M995.38 161.40v-1.40M995.38 360.30v1.40M1000.42 161.40v-1.40M1000.42 360.30v1.40M1005.46 161.40v-1.40M1005.46 360.30v1.40M1010.49 161.40v-1.40M1010.49 360.30v1.40M1015.52 161.40v-2.40M1015.52 360.30v2.40M1020.56 161.40v-1.40M1020.56 360.30v1.40M1025.60 161.40v-1.40M1025.60 360.30v1.40M1030.63 161.40v-1.40M1030.63 360.30v1.40M1035.66 161.40v-1.40M1035.66 360.30v1.40M1040.70 161.40v-2.40M1040.70 360.30v2.40M1045.73 161.40v-1.40M1045.73 360.30v1.40M1050.77 161.40v-1.40M1050.77 360.30v1.40M1055.81 161.40v-1.40M1055.81 360.30v1.40M1060.84 161.40v-1.40M1060.84 360.30v1.40M1065.88 161.40v-2.40M1065.88 360.30v2.40M1070.91 161.40v-1.40M1070.91 360.30v1.40M1075.94 161.40v-1.40M1075.94 360.30v1.40M1080.98 161.40v-1.40M1080.98 360.30v1.40M1086.01 161.40v-1.40M1086.01 360.30v1.40M1091.05 161.40v-2.40M1091.05 360.30v2.40M1096.09 161.40v-1.40M1096.09 360.30v1.40M1101.12 161.40v-1.40M1101.12 360.30v1.40M1106.15 161.40v-1.40M1106.15 360.30v1.40M1111.19 161.40v-1.40M1111.19 360.30v1.40M1116.22 161.40v-2.40M1116.22 360.30v2.40M1121.26 161.40v-1.40M1121.26 360.30v1.40M1126.30 161.40v-1.40M1126.30 360.30v1.40M1131.33 161.40v-1.40M1131.33 360.30v1.40M1136.37 161.40v-1.40M1136.37 360.30v1.40M1141.40 161.40v-2.40M1141.40 360.30v2.40M1146.43 161.40v-1.40M1146.43 360.30v1.40M1151.47 161.40v-1.40M1151.47 360.30v1.40M1156.51 161.40v-1.40M1156.51 360.30v1.40M1161.54 161.40v-1.40M1161.54 360.30v1.40M1166.58 161.40v-2.40M1166.58 360.30v2.40M1171.61 161.40v-1.40M1171.61 360.30v1.40M1176.64 161.40v-1.40M1176.64 360.30v1.40M1181.68 161.40v-1.40M1181.68 360.30v1.40M1186.71 161.40v-1.40M1186.71 360.30v1.40M1191.75 161.40v-2.40M1191.75 360.30v2.40M940.00 360.30h-2.40M1191.75 360.30h2.40M940.00 355.33h-1.40M1191.75 355.33h1.40M940.00 350.36h-1.40M1191.75 350.36h1.40M940.00 345.38h-1.40M1191.75 345.38h1.40M940.00 340.41h-2.40M1191.75 340.41h2.40M940.00 335.44h-1.40M1191.75 335.44h1.40M940.00 330.47h-1.40M1191.75 330.47h1.40M940.00 325.49h-1.40M1191.75 325.49h1.40M940.00 320.52h-2.40M1191.75 320.52h2.40M940.00 315.55h-1.40M1191.75 315.55h1.40M940.00 310.57h-1.40M1191.75 310.57h1.40M940.00 305.60h-1.40M1191.75 305.60h1.40M940.00 300.63h-2.40M1191.75 300.63h2.40M940.00 295.66h-1.40M1191.75 295.66h1.40M940.00 290.69h-1.40M1191.75 290.69h1.40M940.00 285.71h-1.40M1191.75 285.71h1.40M940.00 280.74h-2.40M1191.75 280.74h2.40M940.00 275.77h-1.40M1191.75 275.77h1.40M940.00 270.80h-1.40M1191.75 270.80h1.40M940.00 265.82h-1.40M1191.75 265.82h1.40M940.00 260.85h-2.40M1191.75 260.85h2.40M940.00 255.88h-1.40M1191.75 255.88h1.40M940.00 250.91h-1.40M1191.75 250.91h1.40M940.00 245.93h-1.40M1191.75 245.93h1.40M940.00 240.96h-2.40M1191.75 240.96h2.40M940.00 235.99h-1.40M1191.75 235.99h1.40M940.00 231.02h-1.40M1191.75 231.02h1.40M940.00 226.04h-1.40M1191.75 226.04h1.40M940.00 221.07h-2.40M1191.75 221.07h2.40M940.00 216.10h-1.40M1191.75 216.10h1.40M940.00 211.12h-1.40M1191.75 211.12h1.40M940.00 206.15h-1.40M1191.75 206.15h1.40M940.00 201.18h-2.40M1191.75 201.18h2.40M940.00 196.21h-1.40M1191.75 196.21h1.40M940.00 191.24h-1.40M1191.75 191.24h1.40M940.00 186.26h-1.40M1191.75 186.26h1.40M940.00 181.29h-2.40M1191.75 181.29h2.40M940.00 176.32h-1.40M1191.75 176.32h1.40M940.00 171.34h-1.40M1191.75 171.34h1.40M940.00 166.37h-1.40M1191.75 166.37h1.40M940.00 161.40h-2.40M1191.75 161.40h2.40" stroke="#000" stroke-width="0.80" fill="none"/>
<g clip-path="url(#clip5)" fill="none" stroke="#333" stroke-width="1.00" stroke-linejoin="miter" stroke-linecap="square">
<path d="M941.20 272.90 L945.50 272.90 L945.50 263.80 L950.20 263.80 L950.20 274.60 L961.60 274.60 L961.60 253.10 L974.40 253.10 L974.40 269.50 L1017.10 269.50 L1017.10 251.70 L1045.70 251.70 L1045.70 262.40 L1073.20 262.40 L1073.20 257.90 L1087.40 257.90 L1087.40 251.70 L1101.50 251.70 L1101.50 255.80 L1119.80 255.80 L1119.80 253.60 L1139.50 253.60 L1139.50 252.40 L1161.50 252.40 L1161.50 254.30 L1191.75 254.30"/>
<path d="M941.20 283.40 L945.50 283.40 L945.50 270.30 L950.20 270.30 L950.20 280.20 L961.60 280.20 L961.60 260.30 L974.40 260.30 L974.40 278.50 L1017.10 278.50 L1017.10 255.80 L1045.70 255.80 L1045.70 266.30 L1073.20 266.30 L1073.20 263.30 L1087.40 263.30 L1087.40 256.10 L1101.50 256.10 L1101.50 265.40 L1119.80 265.40 L1119.80 260.30 L1139.50 260.30 L1139.50 259.60 L1161.50 259.60 L1161.50 262.10 L1191.75 262.10"/>
<path d="M941.20 272.90V283.40 M945.50 272.90V283.40 M945.50 263.80V270.30 M950.20 263.80V270.30 M950.20 274.60V280.20 M961.60 274.60V280.20 M961.60 253.10V260.30 M974.40 253.10V260.30 M974.40 269.50V278.50 M1017.10 269.50V278.50 M1017.10 251.70V255.80 M1045.70 251.70V255.80 M1045.70 262.40V266.30 M1073.20 262.40V266.30 M1073.20 257.90V263.30 M1087.40 257.90V263.30 M1087.40 251.70V256.10 M1101.50 251.70V256.10 M1101.50 255.80V265.40 M1119.80 255.80V265.40 M1119.80 253.60V260.30 M1139.50 253.60V260.30 M1139.50 252.40V259.60 M1161.50 252.40V259.60 M1161.50 254.30V262.10 M1191.75 254.30V262.10"/>
<line x1="941.2" y1="182" x2="941.2" y2="273" stroke-width="1.4"/>
</g>
<rect x="940.00" y="161.40" width="251.75" height="198.90" fill="none" stroke="#000" stroke-width="1.30"/>
<g stroke="#000" stroke-width="1.30" fill="#000">
<line x1="1089.00" y1="246.50" x2="1117.40" y2="246.50"/>
<line x1="1162.10" y1="246.50" x2="1190.30" y2="246.50"/>
</g>
<path d="M1088.00 246.50l3.00 -1.50v3.00z M1191.30 246.50l-3.00 -1.50v3.00z" fill="#000"/>
<line x1="1087.70" y1="243.00" x2="1087.70" y2="250.20" stroke="#000" stroke-width="1.00"/>
<text x="938.51" y="151.90" font-size="16.30" textLength="93.29" lengthAdjust="spacingAndGlyphs" class="my">189 m, split a</text>
<text x="1077.74" y="239.00" font-size="22.70" textLength="112.66" lengthAdjust="spacingAndGlyphs" class="my">904 ± 3 Ma</text>
<text x="985.85" y="356.40" font-size="12.90" textLength="158.75" lengthAdjust="spacingAndGlyphs" class="hv">Integrated Age = 896 ± 3 Ma</text>
<text class="hb" transform="translate(886.20 335.50) rotate(-90)" x="-0.37" y="0" font-size="16.20" font-weight="bold" textLength="130.82" lengthAdjust="spacingAndGlyphs">Apparent age (Ma)</text>
<g clip-path="url(#clipx5)"><text x="968.89" y="412.40" font-size="16.00" font-weight="bold" textLength="97.90" lengthAdjust="spacingAndGlyphs" class="hb">Cumulative %</text><text x="1073.95" y="405.80" font-size="7.20" font-weight="bold" textLength="8.16" lengthAdjust="spacingAndGlyphs">39</text><text x="1083.98" y="412.40" font-size="16.00" font-weight="bold" textLength="82.01" lengthAdjust="spacingAndGlyphs" class="hb">Ar released</text></g>
<text x="937.22" y="370.15" font-size="10.00" textLength="5.56" lengthAdjust="spacingAndGlyphs" class="hv">0</text>
<text x="984.73" y="370.15" font-size="10.00" textLength="11.12" lengthAdjust="spacingAndGlyphs" class="hv">20</text>
<text x="1035.22" y="370.15" font-size="10.00" textLength="11.12" lengthAdjust="spacingAndGlyphs" class="hv">40</text>
<text x="1085.43" y="370.15" font-size="10.00" textLength="11.12" lengthAdjust="spacingAndGlyphs" class="hv">60</text>
<text x="1135.82" y="370.15" font-size="10.00" textLength="11.12" lengthAdjust="spacingAndGlyphs" class="hv">80</text>
<text x="1184.68" y="370.10" font-size="10.00" textLength="15.79" lengthAdjust="spacingAndGlyphs" class="hv">100</text>
<text x="912.54" y="164.14" font-size="10.40" textLength="22.25" lengthAdjust="spacingAndGlyphs" class="hv">1000</text>
<text x="917.72" y="215.24" font-size="10.40" textLength="17.08" lengthAdjust="spacingAndGlyphs" class="hv">950</text>
<text x="917.72" y="264.14" font-size="10.40" textLength="17.08" lengthAdjust="spacingAndGlyphs" class="hv">900</text>
<text x="917.76" y="314.24" font-size="10.40" textLength="17.04" lengthAdjust="spacingAndGlyphs" class="hv">850</text>
<text x="917.76" y="363.64" font-size="10.40" textLength="17.04" lengthAdjust="spacingAndGlyphs" class="hv">800</text>
<clipPath id="clip6"><rect x="940.40" y="476.20" width="253.50" height="200.00"/></clipPath>
<path d="M940.40 476.20v-2.40M940.40 676.20v2.40M945.47 476.20v-1.40M945.47 676.20v1.40M950.54 476.20v-1.40M950.54 676.20v1.40M955.61 476.20v-1.40M955.61 676.20v1.40M960.68 476.20v-1.40M960.68 676.20v1.40M965.75 476.20v-2.40M965.75 676.20v2.40M970.82 476.20v-1.40M970.82 676.20v1.40M975.89 476.20v-1.40M975.89 676.20v1.40M980.96 476.20v-1.40M980.96 676.20v1.40M986.03 476.20v-1.40M986.03 676.20v1.40M991.10 476.20v-2.40M991.10 676.20v2.40M996.17 476.20v-1.40M996.17 676.20v1.40M1001.24 476.20v-1.40M1001.24 676.20v1.40M1006.31 476.20v-1.40M1006.31 676.20v1.40M1011.38 476.20v-1.40M1011.38 676.20v1.40M1016.45 476.20v-2.40M1016.45 676.20v2.40M1021.52 476.20v-1.40M1021.52 676.20v1.40M1026.59 476.20v-1.40M1026.59 676.20v1.40M1031.66 476.20v-1.40M1031.66 676.20v1.40M1036.73 476.20v-1.40M1036.73 676.20v1.40M1041.80 476.20v-2.40M1041.80 676.20v2.40M1046.87 476.20v-1.40M1046.87 676.20v1.40M1051.94 476.20v-1.40M1051.94 676.20v1.40M1057.01 476.20v-1.40M1057.01 676.20v1.40M1062.08 476.20v-1.40M1062.08 676.20v1.40M1067.15 476.20v-2.40M1067.15 676.20v2.40M1072.22 476.20v-1.40M1072.22 676.20v1.40M1077.29 476.20v-1.40M1077.29 676.20v1.40M1082.36 476.20v-1.40M1082.36 676.20v1.40M1087.43 476.20v-1.40M1087.43 676.20v1.40M1092.50 476.20v-2.40M1092.50 676.20v2.40M1097.57 476.20v-1.40M1097.57 676.20v1.40M1102.64 476.20v-1.40M1102.64 676.20v1.40M1107.71 476.20v-1.40M1107.71 676.20v1.40M1112.78 476.20v-1.40M1112.78 676.20v1.40M1117.85 476.20v-2.40M1117.85 676.20v2.40M1122.92 476.20v-1.40M1122.92 676.20v1.40M1127.99 476.20v-1.40M1127.99 676.20v1.40M1133.06 476.20v-1.40M1133.06 676.20v1.40M1138.13 476.20v-1.40M1138.13 676.20v1.40M1143.20 476.20v-2.40M1143.20 676.20v2.40M1148.27 476.20v-1.40M1148.27 676.20v1.40M1153.34 476.20v-1.40M1153.34 676.20v1.40M1158.41 476.20v-1.40M1158.41 676.20v1.40M1163.48 476.20v-1.40M1163.48 676.20v1.40M1168.55 476.20v-2.40M1168.55 676.20v2.40M1173.62 476.20v-1.40M1173.62 676.20v1.40M1178.69 476.20v-1.40M1178.69 676.20v1.40M1183.76 476.20v-1.40M1183.76 676.20v1.40M1188.83 476.20v-1.40M1188.83 676.20v1.40M1193.90 476.20v-2.40M1193.90 676.20v2.40M940.40 676.20h-2.40M1193.90 676.20h2.40M940.40 671.20h-1.40M1193.90 671.20h1.40M940.40 666.20h-1.40M1193.90 666.20h1.40M940.40 661.20h-1.40M1193.90 661.20h1.40M940.40 656.20h-2.40M1193.90 656.20h2.40M940.40 651.20h-1.40M1193.90 651.20h1.40M940.40 646.20h-1.40M1193.90 646.20h1.40M940.40 641.20h-1.40M1193.90 641.20h1.40M940.40 636.20h-2.40M1193.90 636.20h2.40M940.40 631.20h-1.40M1193.90 631.20h1.40M940.40 626.20h-1.40M1193.90 626.20h1.40M940.40 621.20h-1.40M1193.90 621.20h1.40M940.40 616.20h-2.40M1193.90 616.20h2.40M940.40 611.20h-1.40M1193.90 611.20h1.40M940.40 606.20h-1.40M1193.90 606.20h1.40M940.40 601.20h-1.40M1193.90 601.20h1.40M940.40 596.20h-2.40M1193.90 596.20h2.40M940.40 591.20h-1.40M1193.90 591.20h1.40M940.40 586.20h-1.40M1193.90 586.20h1.40M940.40 581.20h-1.40M1193.90 581.20h1.40M940.40 576.20h-2.40M1193.90 576.20h2.40M940.40 571.20h-1.40M1193.90 571.20h1.40M940.40 566.20h-1.40M1193.90 566.20h1.40M940.40 561.20h-1.40M1193.90 561.20h1.40M940.40 556.20h-2.40M1193.90 556.20h2.40M940.40 551.20h-1.40M1193.90 551.20h1.40M940.40 546.20h-1.40M1193.90 546.20h1.40M940.40 541.20h-1.40M1193.90 541.20h1.40M940.40 536.20h-2.40M1193.90 536.20h2.40M940.40 531.20h-1.40M1193.90 531.20h1.40M940.40 526.20h-1.40M1193.90 526.20h1.40M940.40 521.20h-1.40M1193.90 521.20h1.40M940.40 516.20h-2.40M1193.90 516.20h2.40M940.40 511.20h-1.40M1193.90 511.20h1.40M940.40 506.20h-1.40M1193.90 506.20h1.40M940.40 501.20h-1.40M1193.90 501.20h1.40M940.40 496.20h-2.40M1193.90 496.20h2.40M940.40 491.20h-1.40M1193.90 491.20h1.40M940.40 486.20h-1.40M1193.90 486.20h1.40M940.40 481.20h-1.40M1193.90 481.20h1.40M940.40 476.20h-2.40M1193.90 476.20h2.40" stroke="#000" stroke-width="0.80" fill="none"/>
<g clip-path="url(#clip6)" fill="none" stroke="#333" stroke-width="1.00" stroke-linejoin="miter" stroke-linecap="square">
<path d="M941.20 547.80 L950.40 547.80 L950.40 571.70 L971.20 571.70 L971.20 575.30 L995.50 575.30 L995.50 576.60 L1023.60 576.60 L1023.60 577.50 L1045.50 577.50 L1045.50 570.60 L1065.25 570.60 L1065.25 573.50 L1088.10 573.50 L1088.10 569.40 L1106.00 569.40 L1106.00 577.50 L1118.75 577.50 L1118.75 573.50 L1135.60 573.50 L1135.60 574.40 L1153.50 574.40 L1153.50 589.40 L1171.25 589.40 L1171.25 612.50 L1183.75 612.50 L1183.75 606.25 L1193.90 606.25"/>
<path d="M941.20 553.60 L950.40 553.60 L950.40 576.30 L971.20 576.30 L971.20 584.30 L995.50 584.30 L995.50 582.10 L1023.60 582.10 L1023.60 581.20 L1045.50 581.20 L1045.50 578.10 L1065.25 578.10 L1065.25 583.50 L1088.10 583.50 L1088.10 580.60 L1106.00 580.60 L1106.00 583.50 L1118.75 583.50 L1118.75 580.25 L1135.60 580.25 L1135.60 581.25 L1153.50 581.25 L1153.50 599.40 L1171.25 599.40 L1171.25 618.75 L1183.75 618.75 L1183.75 614.40 L1193.90 614.40"/>
<path d="M941.20 547.80V553.60 M950.40 547.80V553.60 M950.40 571.70V576.30 M971.20 571.70V576.30 M971.20 575.30V584.30 M995.50 575.30V584.30 M995.50 576.60V582.10 M1023.60 576.60V582.10 M1023.60 577.50V581.20 M1045.50 577.50V581.20 M1045.50 570.60V578.10 M1065.25 570.60V578.10 M1065.25 573.50V583.50 M1088.10 573.50V583.50 M1088.10 569.40V580.60 M1106.00 569.40V580.60 M1106.00 577.50V583.50 M1118.75 577.50V583.50 M1118.75 573.50V580.25 M1135.60 573.50V580.25 M1135.60 574.40V581.25 M1153.50 574.40V581.25 M1153.50 589.40V599.40 M1171.25 589.40V599.40 M1171.25 612.50V618.75 M1183.75 612.50V618.75 M1183.75 606.25V614.40 M1193.90 606.25V614.40"/>
<line x1="941.2" y1="552" x2="941.2" y2="581" stroke-width="1.4"/>
</g>
<rect x="940.40" y="476.20" width="253.50" height="200.00" fill="none" stroke="#000" stroke-width="1.30"/>
<g stroke="#000" stroke-width="1.30" fill="#000">
<line x1="972.40" y1="565.30" x2="1035.00" y2="565.30"/>
<line x1="1088.10" y1="565.30" x2="1151.90" y2="565.30"/>
</g>
<path d="M971.40 565.30l3.00 -1.50v3.00z M1152.90 565.30l-3.00 -1.50v3.00z" fill="#000"/>
<line x1="971.20" y1="561.80" x2="971.20" y2="568.60" stroke="#000" stroke-width="1.00"/>
<line x1="1153.10" y1="561.90" x2="1153.10" y2="569.40" stroke="#000" stroke-width="1.00"/>
<text x="938.57" y="469.80" font-size="17.00" textLength="95.70" lengthAdjust="spacingAndGlyphs" class="my">189 m, split b</text>
<text x="1007.71" y="559.60" font-size="23.50" textLength="113.54" lengthAdjust="spacingAndGlyphs" class="my">898 ± 3 Ma</text>
<text x="986.85" y="671.90" font-size="12.90" textLength="158.15" lengthAdjust="spacingAndGlyphs" class="hv">Integrated Age = 895 ± 3 Ma</text>
<text class="hb" transform="translate(895.70 648.00) rotate(-90)" x="-0.37" y="0" font-size="16.20" font-weight="bold" textLength="131.12" lengthAdjust="spacingAndGlyphs">Apparent age (Ma)</text>
<text x="972.19" y="723.40" font-size="16.00" font-weight="bold" textLength="97.70" lengthAdjust="spacingAndGlyphs" class="hb">Cumulative %</text><text x="1077.04" y="716.80" font-size="7.20" font-weight="bold" textLength="8.15" lengthAdjust="spacingAndGlyphs">39</text><text x="1087.04" y="723.40" font-size="16.00" font-weight="bold" textLength="81.85" lengthAdjust="spacingAndGlyphs" class="hb">Ar released</text>
<text x="937.62" y="687.40" font-size="10.00" textLength="5.56" lengthAdjust="spacingAndGlyphs" class="hv">0</text>
<text x="985.48" y="687.40" font-size="10.00" textLength="11.12" lengthAdjust="spacingAndGlyphs" class="hv">20</text>
<text x="1036.32" y="687.40" font-size="10.00" textLength="11.12" lengthAdjust="spacingAndGlyphs" class="hv">40</text>
<text x="1086.88" y="687.40" font-size="10.00" textLength="11.12" lengthAdjust="spacingAndGlyphs" class="hv">60</text>
<text x="1137.62" y="687.40" font-size="10.00" textLength="11.12" lengthAdjust="spacingAndGlyphs" class="hv">80</text>
<text x="1184.56" y="687.50" font-size="10.00" textLength="18.37" lengthAdjust="spacingAndGlyphs" class="hv">100</text>
<text x="912.54" y="481.14" font-size="10.40" textLength="22.25" lengthAdjust="spacingAndGlyphs" class="hv">1000</text>
<text x="917.72" y="532.64" font-size="10.40" textLength="17.08" lengthAdjust="spacingAndGlyphs" class="hv">950</text>
<text x="917.72" y="580.64" font-size="10.40" textLength="17.08" lengthAdjust="spacingAndGlyphs" class="hv">900</text>
<text x="917.76" y="631.64" font-size="10.40" textLength="17.04" lengthAdjust="spacingAndGlyphs" class="hv">850</text>
<text x="917.76" y="680.64" font-size="10.40" textLength="17.04" lengthAdjust="spacingAndGlyphs" class="hv">800</text>
</svg>
</body></html>
